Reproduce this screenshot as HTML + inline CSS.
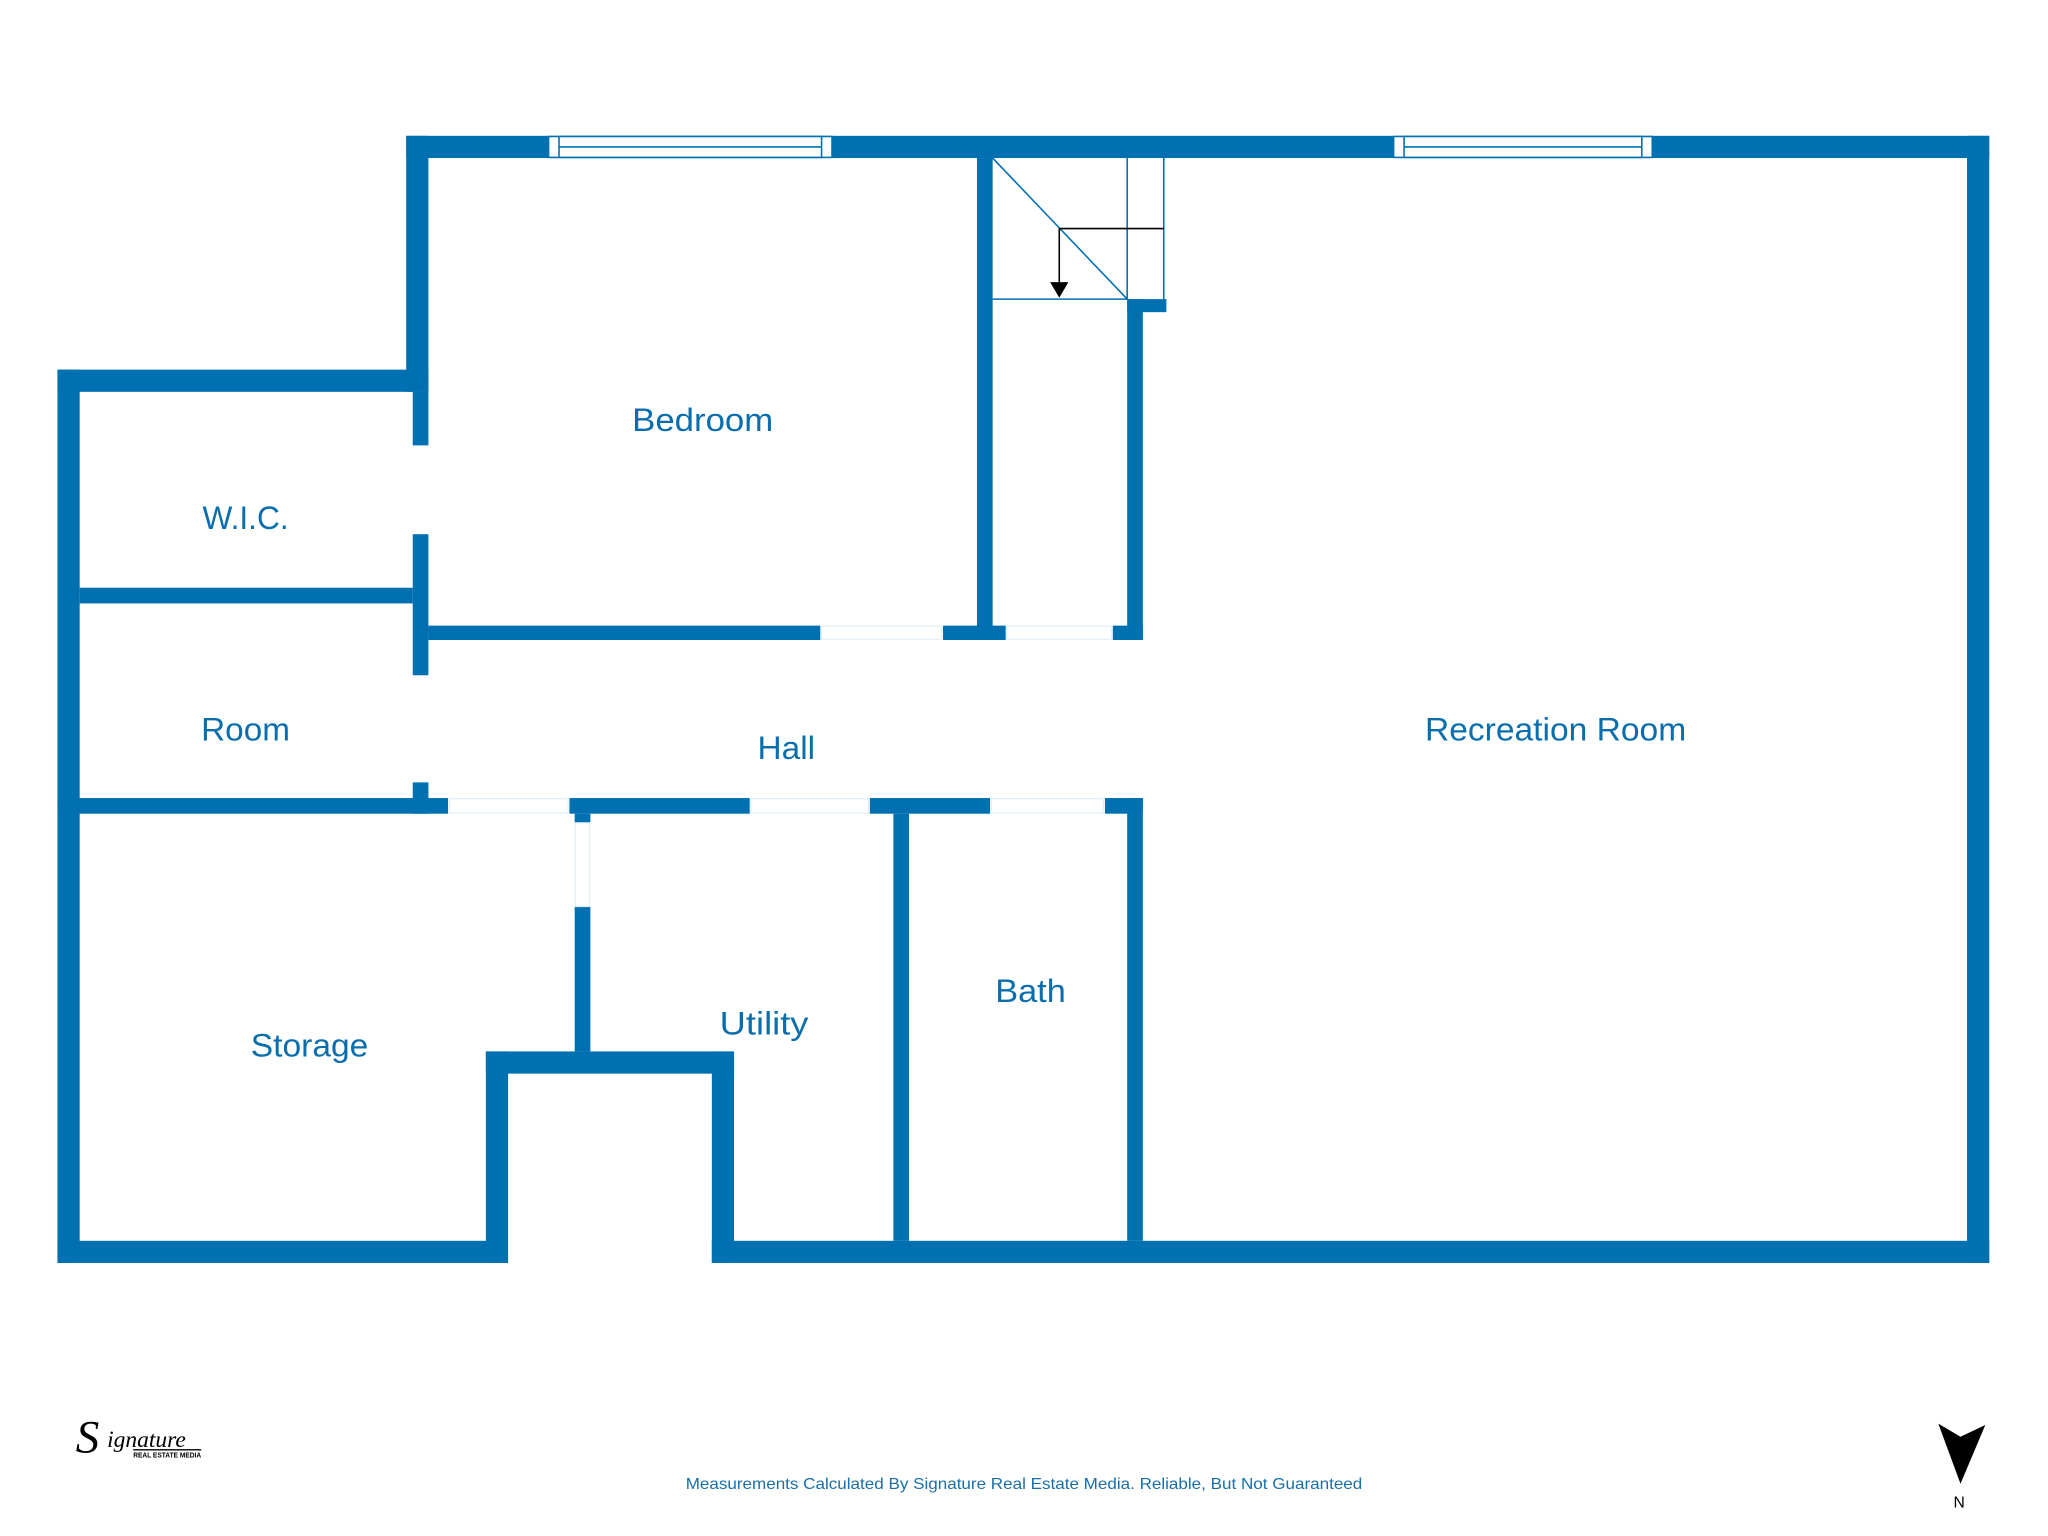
<!DOCTYPE html>
<html><head><meta charset="utf-8"><style>
html,body{margin:0;padding:0;background:#fff;}
svg{display:block;}
</style></head><body>
<svg width="2048" height="1536" viewBox="0 0 1568 1176" preserveAspectRatio="none" xmlns="http://www.w3.org/2000/svg">
<rect width="1568" height="1176" fill="#fff"/>
<g fill="#0070b0">
<!-- outer -->
<rect x="311" y="104" width="1212" height="17"/>
<rect x="1506" y="104" width="17" height="863"/>
<rect x="545" y="950" width="978" height="17"/>
<rect x="44" y="950" width="344" height="17"/>
<rect x="44" y="283" width="17" height="684"/>
<rect x="44" y="283" width="284" height="17"/>
<rect x="311" y="104" width="17" height="196"/>
<!-- bedroom left thin wall with gaps -->
<rect x="316" y="300" width="12" height="41"/>
<rect x="316" y="409" width="12" height="108"/>
<rect x="316" y="599" width="12" height="24"/>
<!-- wic/room divider -->
<rect x="61" y="450" width="255" height="12"/>
<!-- bedroom bottom -->
<rect x="328" y="479" width="300" height="11"/>
<rect x="722" y="479" width="48" height="11"/>
<rect x="852" y="479" width="23" height="11"/>
<!-- stair walls -->
<rect x="748" y="121" width="12" height="369"/>
<rect x="863" y="229" width="12" height="261"/>
<rect x="863" y="229" width="30" height="10"/>
<!-- hall bottom -->
<rect x="44" y="611" width="299" height="12"/>
<rect x="436" y="611" width="138" height="12"/>
<rect x="666" y="611" width="92" height="12"/>
<rect x="846" y="611" width="29" height="12"/>
<!-- storage/utility -->
<rect x="440" y="623" width="12" height="7"/>
<rect x="440" y="694" width="12" height="111"/>
<rect x="372" y="805" width="190" height="17"/>
<rect x="372" y="805" width="17" height="162"/>
<rect x="545" y="805" width="17" height="162"/>
<rect x="684" y="623" width="12" height="327"/>
<rect x="863" y="611" width="12" height="339"/>
</g>
<!-- door gap hints -->
<g fill="none" stroke="#e3eef5" stroke-width="1">
<rect x="328" y="341" width="0" height="68"/>
<rect x="629" y="479.5" width="92" height="10"/>
<rect x="771" y="479.5" width="80" height="10"/>
<rect x="344" y="611.5" width="91" height="11"/>
<rect x="575" y="611.5" width="90" height="11"/>
<rect x="759" y="611.5" width="86" height="11"/>
<rect x="440.5" y="630" width="11" height="64"/>
</g>
<!-- windows -->
<g fill="#fff" stroke="#0070b0" stroke-width="1.2">
<rect x="420" y="104.5" width="217" height="16"/>
<rect x="428" y="104.5" width="201" height="16"/>
<line x1="428" y1="112.5" x2="629" y2="112.5"/>
<rect x="1067" y="104.5" width="198" height="16"/>
<rect x="1075" y="104.5" width="182" height="16"/>
<line x1="1075" y1="112.5" x2="1257" y2="112.5"/>
</g>
<!-- stairs -->
<g stroke="#0070b0" stroke-width="1.2" fill="none">
<line x1="760" y1="121" x2="863" y2="229"/>
<line x1="863" y1="121" x2="863" y2="229"/>
<line x1="891" y1="121" x2="891" y2="229"/>
<line x1="760" y1="229" x2="863" y2="229"/>
</g>
<g stroke="#000" stroke-width="1.2">
<line x1="811" y1="175" x2="891" y2="175"/>
<line x1="811" y1="175" x2="811" y2="218"/>
</g>
<polygon points="804,216 818,216 811,228" fill="#000"/>
<!-- labels -->
<g fill="#0a6ead" font-family="Liberation Sans, DejaVu Sans, sans-serif" font-size="25" text-anchor="middle">
<text x="538" y="330" textLength="108" lengthAdjust="spacingAndGlyphs">Bedroom</text>
<text x="188" y="405" textLength="66" lengthAdjust="spacingAndGlyphs">W.I.C.</text>
<text x="188" y="567" textLength="68" lengthAdjust="spacingAndGlyphs">Room</text>
<text x="602" y="581" textLength="44" lengthAdjust="spacingAndGlyphs">Hall</text>
<text x="1191" y="567" textLength="200" lengthAdjust="spacingAndGlyphs">Recreation Room</text>
<text x="237" y="809" textLength="90" lengthAdjust="spacingAndGlyphs">Storage</text>
<text x="585" y="792" textLength="68" lengthAdjust="spacingAndGlyphs">Utility</text>
<text x="789" y="767" textLength="54" lengthAdjust="spacingAndGlyphs">Bath</text>
</g>
<text x="784" y="1140" fill="#1a6fa8" font-family="Liberation Sans, sans-serif" font-size="12" text-anchor="middle" textLength="518" lengthAdjust="spacingAndGlyphs">Measurements Calculated By Signature Real Estate Media. Reliable, But Not Guaranteed</text>
<!-- logo -->
<text x="58" y="1112" font-family="Liberation Serif, serif" font-style="italic" font-size="36" fill="#000">S</text>
<text x="82" y="1108" font-family="Liberation Serif, serif" font-style="italic" font-size="18" fill="#000">ignature</text>
<line x1="102" y1="1110" x2="154" y2="1110" stroke="#000" stroke-width="1"/>
<text x="102" y="1116" font-family="Liberation Sans, sans-serif" font-weight="bold" font-size="5.5" fill="#000" textLength="52" lengthAdjust="spacingAndGlyphs">REAL ESTATE MEDIA</text>
<!-- north -->
<polygon points="1484,1090 1501,1100 1520,1091 1501,1136" fill="#000"/>
<text x="1500" y="1154" font-family="Liberation Sans, sans-serif" font-size="12" fill="#000" text-anchor="middle">N</text>
</svg>
</body></html>
